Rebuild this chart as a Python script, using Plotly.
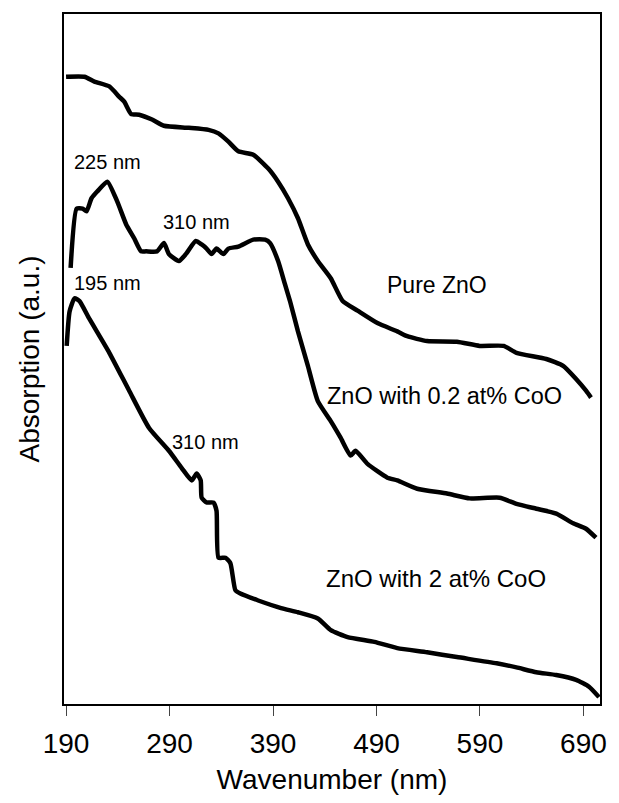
import plotly.graph_objects as go

# ---- data ----
pure_x = [190, 207.8, 217.4, 231.8, 241.4, 246.2, 252.9, 260.6, 273.1, 284.6, 308.6, 327.7,
          337.3, 346.9, 356.5, 370.9, 385.4, 394.9, 404.5, 414.1, 423.7, 433.3, 445.8, 457.3,
          471.7, 490.9, 510.1, 519.7, 538.9, 567.7, 589.7, 612.8, 625.3, 654.1, 670.4, 682.9,
          692.5, 697.3]
pure_y = [90.9, 90.9, 90.2, 89.5, 88.0, 87.3, 85.5, 85.4, 84.7, 83.8, 83.5, 83.2,
          82.7, 81.5, 80.1, 79.6, 77.6, 75.7, 73.3, 70.4, 66.6, 64.2, 61.7, 58.4,
          57.0, 55.2, 54.0, 53.3, 52.6, 52.5, 51.9, 51.9, 50.9, 50.0, 49.0, 47.1,
          45.4, 44.4]

co02_x = [194.4, 200.2, 205.9, 209.8, 214.6, 220.3, 229.9, 239.5, 248.1, 255.8, 262.5, 267.3,
          277.9, 284.6, 289.4, 299.0, 305.7, 315.3, 321.0, 325.8, 330.6, 335.4, 342.1, 346.9,
          356.5, 370.9, 382.4, 387.2, 394.9, 401.6, 406.4, 414.1, 423.7, 433.3, 445.8, 455.3,
          465.0, 469.8, 481.3, 500.5, 510.1, 529.3, 558.1, 580.1, 609.0, 625.3, 644.5, 663.7,
          680.0, 692.5, 702.1]
co02_y = [63.2, 71.8, 71.8, 71.4, 73.3, 74.3, 75.7, 72.8, 69.5, 67.5, 65.6, 65.6,
          65.6, 66.8, 65.2, 64.2, 65.2, 67.1, 66.6, 66.0, 65.2, 66.0, 65.2, 66.0,
          66.3, 67.3, 67.3, 66.8, 64.2, 60.8, 58.4, 54.0, 49.0, 43.9, 41.0, 38.6,
          36.0, 36.7, 34.8, 32.8, 32.4, 31.2, 30.5, 29.8, 29.9, 29.0, 28.3, 27.6,
          26.2, 25.4, 24.1]

co2_x = [190.6, 193.4, 198.2, 203.0, 212.6, 231.8, 251.0, 270.2, 289.4, 301.8, 311.5, 316.2,
         320.1, 321.0, 325.8, 332.5, 335.4, 337.3, 344.0, 348.8, 353.6, 358.4, 375.7, 397.8,
         414.1, 433.3, 445.8, 462.1, 488.0, 510.1, 538.9, 567.7, 606.1, 625.3, 644.5, 663.7,
         682.9, 695.4, 705.0]
co2_y = [51.9, 56.9, 58.8, 58.4, 55.8, 50.9, 45.4, 40.0, 36.7, 34.2, 32.4, 33.4,
         32.4, 29.9, 29.2, 29.2, 28.0, 21.2, 21.2, 20.4, 16.5, 16.0, 15.0, 13.9,
         13.3, 12.4, 10.7, 9.7, 9.0, 8.1, 7.5, 6.8, 5.9, 5.3, 4.6, 4.2,
         3.5, 2.5, 1.0]

tick_vals = [190, 290, 390, 490, 590, 690]

label_text = ["225 nm", "310 nm", "195 nm", "310 nm"]
label_x = [229.9, 316.2, 229.9, 324.9]
label_y = [78.6, 69.8, 61.0, 37.9]

name_text = ["Pure ZnO", "ZnO with 0.2 at% CoO", "ZnO with 2 at% CoO"]
name_x = [548.3, 555.5, 547.4]
name_y = [60.7, 44.7, 18.2]
name_size = [23, 23.5, 24]

FONT = "Liberation Sans, Arial, sans-serif"

fig = go.Figure()
for xs, ys in [(pure_x, pure_y), (co02_x, co02_y), (co2_x, co2_y)]:
    fig.add_trace(go.Scatter(x=xs, y=ys, mode="lines",
                             line=dict(color="black", width=4.5, shape="spline",
                                       smoothing=0.5),
                             showlegend=False, hoverinfo="skip"))

for t, x, y in zip(label_text, label_x, label_y):
    fig.add_annotation(x=x, y=y, text=t, showarrow=False,
                       font=dict(family=FONT, size=20, color="black"))
for t, x, y, s in zip(name_text, name_x, name_y, name_size):
    fig.add_annotation(x=x, y=y, text=t, showarrow=False,
                       font=dict(family=FONT, size=s, color="black"))

fig.update_layout(
    width=619, height=803,
    margin=dict(l=64, r=15, t=12, b=99),
    paper_bgcolor="white", plot_bgcolor="white",
    font=dict(family=FONT, color="black"),
    xaxis=dict(range=[188, 706], tickvals=tick_vals, ticks="outside", ticklen=10,
               tickwidth=1, tickcolor="#444", showgrid=False, zeroline=False,
               showline=True, linecolor="black", linewidth=2, mirror=True,
               ticklabelstandoff=3,
               tickfont=dict(size=28, color="black"),
               title=dict(text="Wavenumber (nm)", font=dict(size=28, color="black"),
                          standoff=12)),
    yaxis=dict(range=[0, 100], showticklabels=False, ticks="", showgrid=False,
               zeroline=False, showline=True, linecolor="black", linewidth=2,
               mirror=True,
               title=dict(text="Absorption (a.u.)", font=dict(size=28, color="black"),
                          standoff=14)),
)

fig.write_html("out.html")
